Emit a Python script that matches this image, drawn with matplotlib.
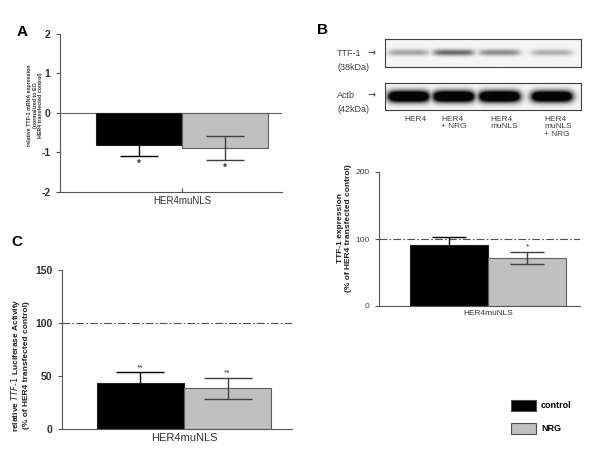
import numpy as np
import matplotlib
matplotlib.use("Agg")
import matplotlib.pyplot as plt
from matplotlib.patches import Patch

plt.rcParams['font.family'] = ['Liberation Sans', 'DejaVu Sans']

W, H = 600, 458

groups = ['control', 'NRG']
category = 'HER4muNLS'
bar_colors = ['#000000', '#c0c0c0']
err_colors = ['#000000', '#404040']

# A: relative TTF-1 mRNA expression
a_values = [-0.82, -0.90]
a_errors = [0.27, 0.30]
a_marks = ['*', '*']
a_ticks = [-2, -1, 0, 1, 2]

# B: TTF-1 protein (% of HER4 transfected control)
b_values = [91, 72]
b_errors = [12, 9]
b_marks = ['', '*']
b_ticks = [0, 100, 200]

# C: TTF-1 luciferase activity
c_values = [43.5, 38.5]
c_errors = [10, 10]
c_marks = ['**', '**']
c_ticks = [0, 50, 100, 150]

# western blot lanes
lanes = ['HER4', 'HER4\n+ NRG', 'HER4\nmuNLS', 'HER4\nmuNLS\n+ NRG']
ttf1_bands = [0.35, 0.6, 0.45, 0.3]
actb_bands = [1.0, 1.0, 1.0, 0.95]

fig = plt.figure(figsize=(W / 100, H / 100), dpi=100)


def box(x0, y0, x1, y1):
    return [x0 / W, 1 - y1 / H, (x1 - x0) / W, (y1 - y0) / H]


def txt(x, y, s, **kw):
    fig.text(x / W, 1 - y / H, s, **kw)


def bar_panel(rect, xlim, values, errors, marks, ticks, ylim, capsize,
              tick_kw, cat_size, mark_dir):
    ax = fig.add_axes(rect)
    xs = [-0.5, 0.5]
    ax.bar(xs, values, width=1, color=bar_colors,
           edgecolor=['#202020', '#606060'], linewidth=0.8, zorder=2)
    for x, v, e, ec in zip(xs, values, errors, err_colors):
        ax.errorbar([x], [v], yerr=[e], fmt='none', ecolor=ec,
                    elinewidth=1, capsize=capsize, capthick=1, zorder=3)
    for x, v, e, m in zip(xs, values, errors, marks):
        if not m:
            continue
        if mark_dir < 0:
            ax.annotate(m, (x, v - e), xytext=(0, -2), textcoords='offset points',
                        ha='center', va='top', fontsize=7, fontweight='bold',
                        color='#303030')
        else:
            ax.annotate(m, (x, v + e), xytext=(0, 1), textcoords='offset points',
                        ha='center', va='bottom', fontsize=6, color='#303030')
    ax.set_xlim(*xlim)
    ax.set_ylim(*ylim)
    for s in ['top', 'right']:
        ax.spines[s].set_visible(False)
    for s in ['left', 'bottom']:
        ax.spines[s].set_color('#555555')
        ax.spines[s].set_linewidth(0.8)
    ax.set_yticks(ticks, [str(t) for t in ticks], **tick_kw)
    ax.set_xticks([0], [category], fontsize=cat_size, color='#303030')
    ax.tick_params(axis='y', length=3, width=0.8, color='#555555', pad=4)
    ax.tick_params(axis='x', direction='in', length=3, width=0.8, color='#555555', pad=3)
    ax.set_facecolor('none')
    return ax


# panel A
axA = bar_panel(box(60, 34, 282, 191.5), (-1.419, 1.163), a_values, a_errors, a_marks,
                a_ticks, (-2, 2), 14, dict(fontsize=7.5, fontweight='bold', color='#303030'),
                7, -1)
axA.axhline(0, color='#606060', lw=0.8, zorder=1)
txt(35, 105, 'relative TTF-1 mRNA expression\n(normalized to EO\nHER4 transfected control)',
    rotation=90, ha='center', va='center', fontsize=3.8, fontweight='bold',
    color='#303030', multialignment='center', linespacing=1.1)
txt(22, 32, 'A', fontsize=11, fontweight='bold', ha='center', va='center')

# panel B bar chart
axB = bar_panel(box(379, 172, 580, 306), (-1.397, 1.179), b_values, b_errors, b_marks,
                b_ticks, (0, 200), 12, dict(fontsize=6, color='#404040'), 6, 1)
axB.axhline(100, color='#505050', lw=0.8, linestyle=(0, (7, 2, 1.5, 2)), zorder=1)
txt(344, 228, 'TTF-1 expression\n(% of HER4 transfected control)', rotation=90,
    ha='center', va='center', fontsize=6, fontweight='bold', color='#202020',
    multialignment='center', linespacing=1.2)
txt(322, 30, 'B', fontsize=11, fontweight='bold', ha='center', va='center')

# panel B western blot
lane_centers = [0.12, 0.35, 0.585, 0.853]


def blot(rect, strengths, thickness, gain):
    ax = fig.add_axes(rect)
    X, Y = np.meshgrid(np.linspace(0, 1, 300), np.linspace(-1, 1, 60))
    dark = np.zeros_like(X)
    for c, s in zip(lane_centers, strengths):
        horiz = 1 / (1 + np.exp((np.abs(X - c) - 0.1) / 0.012))
        vert = np.exp(-(Y / thickness) ** 2)
        dark = np.maximum(dark, np.clip(gain * s * horiz * vert, 0, 1))
    ax.imshow(0.96 - 0.94 * dark, cmap='gray', vmin=0, vmax=1, aspect='auto',
              extent=(0, 1, 0, 1), interpolation='bilinear')
    ax.set_xticks([])
    ax.set_yticks([])
    for s in ax.spines.values():
        s.set_color('#404040')
        s.set_linewidth(0.8)
    return ax


blot(box(385, 39, 581, 67), ttf1_bands, 0.22, 1.0)
blot(box(385, 83, 581, 110), actb_bands, 0.42, 1.8)
for y, name, kda in [(53, 'TTF-1', '(38kDa)'), (95, 'Actb', '(42kDa)')]:
    txt(337, y, name, fontsize=6.5, color='#404040', va='center')
    txt(367, y, '\u2192', fontsize=7, color='#404040', va='center',
        family=['DejaVu Sans'])
    txt(337, y + 15, kda, fontsize=6.5, color='#404040', va='center')
for x, s in zip([415, 454, 504, 558], lanes):
    txt(x, 116, s, fontsize=6, color='#404040', ha='center', va='top',
        multialignment='left', linespacing=1.1)

# panel C
axC = bar_panel(box(62, 270, 292, 429), (-1.402, 1.241), c_values, c_errors, c_marks,
                c_ticks, (0, 150), 17, dict(fontsize=7.5, fontweight='bold', color='#303030'),
                8, 1)
axC.axhline(100, color='#505050', lw=0.8, linestyle=(0, (7, 2, 1.5, 2)), zorder=1)
txt(20, 365, 'relative $\\bf{\\it{TTF}}$-$\\bf{\\it{1}}$ Luciferase Activity\n(% of HER4 transfected control)',
    rotation=90, ha='center', va='center', fontsize=6, fontweight='bold',
    color='#202020', multialignment='center', linespacing=1.2)
txt(17, 242, 'C', fontsize=11, fontweight='bold', ha='center', va='center')

# legend
handles = [Patch(facecolor=c, edgecolor='#505050', linewidth=0.8, label=g)
           for c, g in zip(bar_colors, groups)]
fig.legend(handles=handles, loc='upper left', bbox_to_anchor=(503 / W, 1 - 392 / H),
           frameon=False, handlelength=2.7, handleheight=1.4,
           labelspacing=1.4, handletextpad=0.6, prop=dict(weight='bold', size=6.5))

fig.savefig('out.png', dpi=100)
